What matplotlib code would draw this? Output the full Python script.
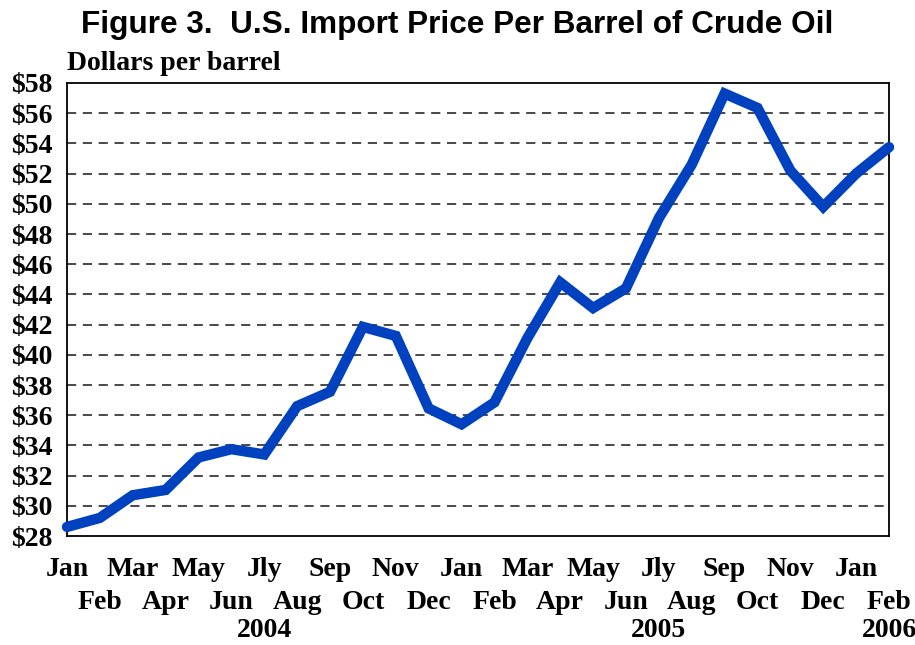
import matplotlib
matplotlib.use("Agg")
import matplotlib.pyplot as plt
import matplotlib.transforms as mtransforms

months = ["Jan", "Feb", "Mar", "Apr", "May", "Jun", "Jly", "Aug", "Sep", "Oct", "Nov", "Dec",
          "Jan", "Feb", "Mar", "Apr", "May", "Jun", "Jly", "Aug", "Sep", "Oct", "Nov", "Dec",
          "Jan", "Feb"]
years = [2004] * 12 + [2005] * 12 + [2006] * 2
prices = [28.6, 29.2, 30.7, 31.05, 33.2, 33.75, 33.4, 36.6, 37.55, 41.85, 41.25, 36.45,
          35.4, 36.85, 41.1, 44.8, 43.1, 44.4, 49.05, 52.6, 57.3, 56.35, 52.2, 49.8,
          52.0, 53.75]
yticks = list(range(28, 60, 2))

W, H = 915, 645
fig = plt.figure(figsize=(W / 100, H / 100), dpi=100)
ax = fig.add_axes([67 / W, 1 - 536 / H, (889 - 67) / W, (536 - 83) / H])

x = list(range(len(prices)))
ax.plot(x, prices, color="#0041C0", lw=7.5, solid_capstyle="round",
        solid_joinstyle="miter", clip_on=False, zorder=3)

ax.set_xlim(0, len(prices) - 1)
ax.set_ylim(28, 58)
ax.set_yticks(yticks)
ax.set_yticklabels([f"${v}" for v in yticks], fontfamily="Liberation Serif",
                   fontweight="bold", fontsize=20)
ax.tick_params(axis="y", length=0, pad=10.5)
ax.set_xticks([])
for v in yticks[1:-1]:
    ax.axhline(v, color="#2a2a2a", lw=1.2, ls=(0, (5.5, 4)), zorder=1)
for s in ax.spines.values():
    s.set_color("black")
    s.set_linewidth(1.3)

trans = mtransforms.blended_transform_factory(ax.transData, ax.transAxes)
font = dict(fontfamily="Liberation Serif", fontweight="bold", fontsize=20,
            ha="center", va="center")
for i, m in enumerate(months):
    off = -24 if i % 2 == 0 else -48
    ax.annotate(m, (i, 0), xycoords=trans, xytext=(0, off),
                textcoords="offset points", **font)
yfont = dict(font, va="baseline")
for yr in sorted(set(years)):
    idx = [i for i, y in enumerate(years) if y == yr]
    pos = next((i for i in idx if months[i] == "Jly"), idx[-1])
    ax.annotate(str(yr), (pos, 0), xycoords=trans, xytext=(0, -72.5),
                textcoords="offset points", **yfont)

fig.text(457 / W, 1 - 25 / H, "Figure 3.  U.S. Import Price Per Barrel of Crude Oil",
         fontfamily="Liberation Sans", fontweight="bold", fontsize=22.7,
         ha="center", va="center")
fig.text(67 / W, 1 - 64 / H, "Dollars per barrel", fontfamily="Liberation Serif",
         fontweight="bold", fontsize=20, ha="left", va="center")

fig.savefig("out.png", dpi=100)
